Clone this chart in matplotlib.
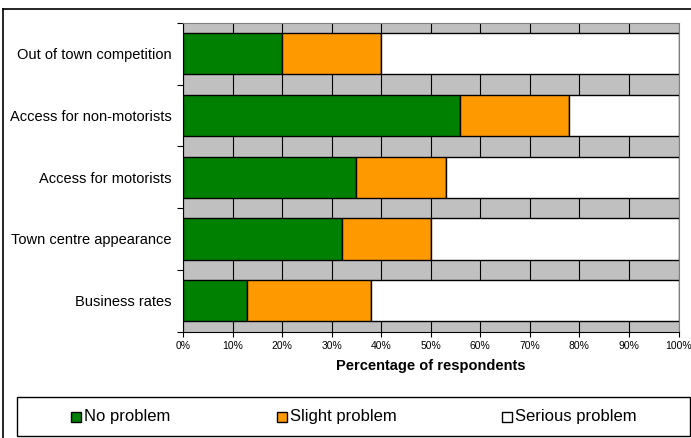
import numpy as np
import matplotlib
matplotlib.use("Agg")
import matplotlib.pyplot as plt
from matplotlib.patches import Patch, Rectangle
from matplotlib.lines import Line2D

plt.rcParams['font.family'] = ['Liberation Sans', 'DejaVu Sans']

categories = ["Out of town competition", "Access for non-motorists",
              "Access for motorists", "Town centre appearance", "Business rates"]
no_problem = [20, 56, 35, 32, 13]
slight_problem = [20, 22, 18, 18, 25]
serious_problem = [60, 22, 47, 50, 62]
series_names = ["No problem", "Slight problem", "Serious problem"]
colors = ["#008000", "#FF9900", "#FFFFFF"]

W, H = 691, 438
fig = plt.figure(figsize=(W / 100, H / 100), dpi=100)

# plot area in pixel terms
x0, x1, y_top, y_bot = 183, 678.5, 23, 331.5
ax = fig.add_axes([x0 / W, (H - y_bot) / H, (x1 - x0) / W, (y_bot - y_top) / H])
ax.set_facecolor("#C0C0C0")

y = np.arange(len(categories))
left = np.zeros(len(categories))
for vals, name, c in zip([no_problem, slight_problem, serious_problem], series_names, colors):
    ax.barh(y, vals, left=left, height=0.667, color=c, edgecolor="black",
            linewidth=1.0, label=name, zorder=3)
    left += np.array(vals)

ax.set_xlim(0, 100)
ax.set_ylim(len(categories) - 0.5, -0.5)
ax.set_xticks(np.arange(0, 101, 10))
ax.set_xticklabels([f"{v}%" for v in range(0, 101, 10)], fontsize=7.5)
ax.xaxis.grid(True, color="black", linewidth=0.8, zorder=1)
ax.set_axisbelow(True)

ax.set_yticks(y)
ax.set_yticklabels(categories, fontsize=10.5)
ax.set_yticks(np.arange(-0.5, len(categories), 1), minor=True)
ax.tick_params(axis="y", which="major", length=0, pad=8)
ax.tick_params(axis="y", which="minor", length=4, direction="out", width=0.8)
ax.tick_params(axis="x", length=3.5, direction="out", width=0.8, pad=3)

ax.set_xlabel("Percentage of respondents", fontsize=10.5, fontweight="bold", labelpad=6)

for side in ["left", "bottom"]:
    ax.spines[side].set_color("black")
    ax.spines[side].set_linewidth(0.8)
for side in ["top", "right"]:
    ax.spines[side].set_color("#808080")
    ax.spines[side].set_linewidth(0.8)

# outer chart frame (top and left edges visible)
fig.add_artist(Line2D([3 / W, 3 / W], [0, (H - 9) / H], color="black", linewidth=1.2))
fig.add_artist(Line2D([3 / W, 1], [(H - 9) / H, (H - 9) / H], color="black", linewidth=1.2))

# legend box below the plot
lx0, lx1, ly_top, ly_bot = 16.5, 690, 397, 436
fig.add_artist(Rectangle((lx0 / W, (H - ly_bot) / H), (lx1 - lx0) / W, (ly_bot - ly_top) / H,
                         transform=fig.transFigure, facecolor="white",
                         edgecolor="black", linewidth=1.0))
entry_x = [71, 277, 502]
ly = (H - 416.5) / H
for ex, name, c in zip(entry_x, series_names, colors):
    fig.add_artist(Rectangle((ex / W, ly - 5 / H), 10 / W, 10 / H, transform=fig.transFigure,
                             facecolor=c, edgecolor="black", linewidth=1.0))
    fig.text((ex + 13) / W, ly, name, fontsize=12, va="center", ha="left")

fig.savefig("out.png", dpi=100)
